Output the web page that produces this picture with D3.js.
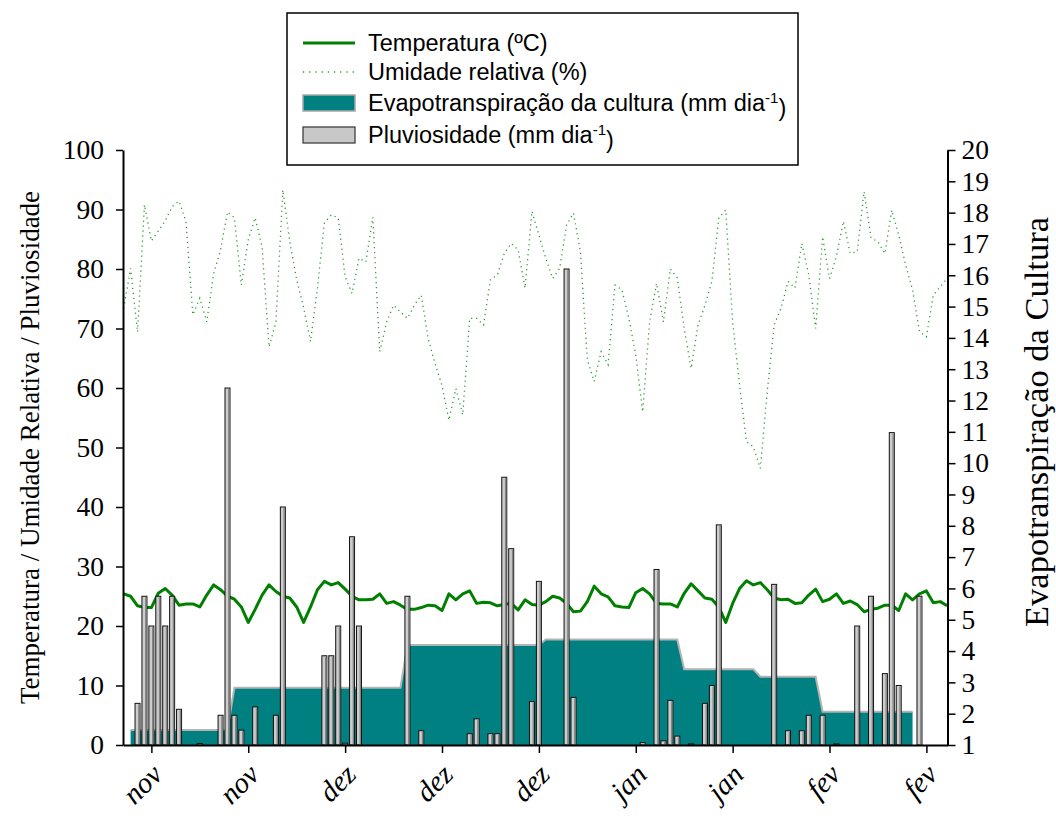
<!DOCTYPE html>
<html>
<head>
<meta charset="utf-8">
<script src="https://cdn.jsdelivr.net/npm/d3@7"></script>
<style>
  body { margin: 0; background: #fff; }
</style>
</head>
<body>
<div id="chart"></div>
<script>
// daily series; index = day counted from the left edge of the x axis
var temperatura = [
  25.4, 25.0, 23.4, 23.1, 23.1, 25.5, 26.3, 25.2, 23.5, 23.7, 23.7, 23.2, 25.2, 26.9, 26.1, 25.0, 24.5, 23.2, 20.6, 22.8,
  25.2, 26.9, 25.8, 25.0, 24.7, 23.2, 20.6, 23.2, 26.1, 27.5, 26.9, 27.3, 26.2, 25.0, 24.4, 24.4, 24.5, 25.4, 23.8, 24.1,
  23.5, 22.8, 22.8, 23.1, 23.5, 23.4, 22.6, 25.4, 24.4, 25.4, 25.9, 23.8, 24.0, 23.9, 23.4, 23.6, 23.8, 22.7, 24.4, 23.6,
  23.5, 24.1, 25.0, 24.7, 23.8, 22.4, 22.5, 24.1, 26.7, 25.4, 24.9, 23.4, 23.2, 23.1, 25.6, 26.3, 25.4, 23.8, 23.7, 23.7,
  23.2, 25.5, 27.1, 25.9, 24.7, 24.5, 23.2, 20.6, 23.8, 26.3, 27.6, 26.9, 27.3, 26.1, 24.7, 24.4, 24.5, 23.8, 23.9, 25.2,
  26.2, 24.1, 24.5, 25.4, 23.8, 24.2, 23.6, 22.4, 22.8, 23.0, 23.5, 23.5, 22.6, 25.4, 24.4, 25.4, 25.9, 23.9, 24.1, 23.4
];

var umidade = [
  73.4, 80.1, 69.4, 90.8, 84.7, 86.4, 88.1, 90.5, 91.4, 88.0, 72.3, 75.1, 71.1, 79.2, 83.2, 89.6, 88.6, 77.3, 84.9, 88.6,
  83.7, 66.9, 71.1, 93.3, 84.6, 78.2, 73.5, 67.8, 76.8, 87.7, 89.1, 88.6, 78.7, 75.9, 81.8, 81.2, 88.7, 66.1, 71.1, 73.9,
  72.8, 71.7, 73.9, 75.6, 68.3, 64.1, 60.4, 54.6, 59.9, 55.5, 71.7, 71.7, 70.6, 78.2, 79.0, 82.6, 84.3, 83.2, 76.8, 89.7,
  85.7, 81.8, 78.4, 80.1, 87.4, 89.4, 82.9, 64.7, 61.1, 66.1, 63.9, 77.3, 76.5, 71.7, 65.5, 56.0, 71.1, 77.6, 71.1, 80.0,
  78.5, 70.0, 63.3, 70.6, 73.9, 77.9, 88.6, 89.9, 71.1, 60.5, 51.0, 50.1, 46.5, 59.4, 70.6, 73.4, 77.9, 76.8, 84.3, 79.0,
  70.0, 85.4, 78.4, 82.1, 88.0, 82.6, 82.9, 93.0, 85.2, 84.6, 82.6, 89.9, 85.7, 80.7, 76.5, 69.5, 68.6, 75.6, 77.0, 78.4
];

// rainfall (mm dia-1): day index and value
var chuvaDias = [2, 3, 4, 5, 6, 7, 8, 11, 14, 15, 16, 17, 19, 22, 23, 29, 30, 31, 32, 33, 34,
  41, 43, 50, 51, 53, 54, 55, 56, 59, 60, 64, 65, 75, 77, 78, 79, 80, 82, 84, 85, 86,
  94, 96, 98, 99, 101, 103, 106, 108, 110, 111, 112, 115];
var chuvaValores = [7, 25, 20, 25, 20, 25, 6, 0.25, 5, 60, 5, 2.5, 6.4, 5, 40, 15, 15, 20, 0.3, 35, 20,
  25, 2.4, 1.9, 4.4, 1.9, 1.9, 45, 33, 7.3, 27.5, 80, 8, 0.4, 29.5, 0.7, 7.5, 1.5, 0.2, 7, 10, 37,
  27, 2.4, 2.4, 5, 5, 0.2, 20, 25, 12, 52.5, 10, 25];

// crop evapotranspiration (right axis), vertices of the stepped area
var etDias = [1, 15, 16, 40, 41, 60, 61, 80, 81, 91, 92, 100, 101, 114];
var etValores = [1.48, 1.48, 2.83, 2.83, 4.19, 4.19, 4.37, 4.37, 3.42, 3.42, 3.18, 3.18, 2.06, 2.06];

var mesTicks = [4, 18, 32, 46, 60, 74, 88, 102, 116];
var mesLabels = ["nov", "nov", "dez", "dez", "dez", "jan", "jan", "fev", "fev"];
var leftTicks = [0, 10, 20, 30, 40, 50, 60, 70, 80, 90, 100];
var rightTicks = [1, 2, 3, 4, 5, 6, 7, 8, 9, 10, 11, 12, 13, 14, 15, 16, 17, 18, 19, 20];

var legendLabels = ["Temperatura (ºC)", "Umidade relativa (%)", "Evapotranspiração da cultura (mm dia", "Pluviosidade (mm dia"];

// set the dimensions and margins of the graph
var margin = { top: 150, right: 108.5, bottom: 71, left: 123 },
  width = 1056 - margin.left - margin.right,
  height = 816 - margin.top - margin.bottom;

var svgRoot = d3.select("#chart").append("svg")
  .attr("width", 1056)
  .attr("height", 816);

var svg = svgRoot.append("g")
  .attr("transform", "translate(" + margin.left + "," + margin.top + ")");

var x = d3.scaleLinear().domain([-0.1, 119.05]).range([0, width]);
var yLeft = d3.scaleLinear().domain([0, 100]).range([height, 0]);
var yRight = d3.scaleLinear().domain([1, 20]).range([height, 0]);

var serif = "'Liberation Serif', 'Times New Roman', serif";
var sans = "'Liberation Sans', Arial, sans-serif";

// evapotranspiration area
var etData = etDias.map(function (d, i) { return [d, etValores[i]]; });
svg.append("path")
  .datum(etData)
  .attr("fill", "#008080")
  .attr("d", d3.area()
    .x(function (d) { return x(d[0]); })
    .y0(yRight(1))
    .y1(function (d) { return yRight(d[1]); }));
svg.append("path")
  .datum(etData)
  .attr("fill", "none")
  .attr("stroke", "#b4b4b4")
  .attr("stroke-width", 2)
  .attr("d", d3.line()
    .x(function (d) { return x(d[0]); })
    .y(function (d) { return yRight(d[1]); }));

// temperature line
svg.append("path")
  .datum(temperatura)
  .attr("fill", "none")
  .attr("stroke", "#008000")
  .attr("stroke-width", 3)
  .attr("stroke-linejoin", "round")
  .attr("d", d3.line()
    .x(function (d, i) { return x(i); })
    .y(function (d) { return yLeft(d); }));

// relative humidity, dotted
svg.append("path")
  .datum(umidade)
  .attr("fill", "none")
  .attr("stroke", "#2a9a2a")
  .attr("stroke-width", 1.3)
  .attr("stroke-dasharray", "1.2,3.8")
  .attr("d", d3.line()
    .x(function (d, i) { return x(i); })
    .y(function (d) { return yLeft(d); }));

// rainfall bars
var barW = 5;
var bars = svg.append("g").selectAll("g")
  .data(chuvaDias.map(function (d, i) { return { dia: d, v: chuvaValores[i] }; }))
  .enter().append("g");
bars.append("rect")
  .attr("x", function (d) { return x(d.dia) - barW / 2; })
  .attr("y", function (d) { return yLeft(d.v); })
  .attr("width", barW)
  .attr("height", function (d) { return yLeft(0) - yLeft(d.v); })
  .attr("fill", "#cdcdcd")
  .attr("stroke", "#111")
  .attr("stroke-width", 1);
bars.append("line")
  .attr("x1", function (d) { return x(d.dia) + barW / 2 - 1.2; })
  .attr("x2", function (d) { return x(d.dia) + barW / 2 - 1.2; })
  .attr("y1", function (d) { return yLeft(d.v) + 1; })
  .attr("y2", yLeft(0))
  .attr("stroke", "#858585")
  .attr("stroke-width", 1.4);

// axes
var axL = svg.append("g")
  .call(d3.axisLeft(yLeft).tickValues(leftTicks).tickSize(7).tickSizeOuter(0).tickPadding(12));
var axR = svg.append("g")
  .attr("transform", "translate(" + width + ",0)")
  .call(d3.axisRight(yRight).tickValues(rightTicks).tickSize(8).tickSizeOuter(0).tickPadding(6));
var axB = svg.append("g")
  .attr("transform", "translate(0," + height + ")")
  .call(d3.axisBottom(x).tickValues(mesTicks).tickSize(8).tickSizeOuter(0)
    .tickFormat(function (d, i) { return mesLabels[i]; }));

[axL, axR, axB].forEach(function (ax) {
  ax.select(".domain").attr("stroke", "#000").attr("stroke-width", 2);
  ax.selectAll(".tick line").attr("stroke", "#000").attr("stroke-width", 1.5);
  ax.selectAll("text").attr("font-family", serif).attr("font-size", 27.5).attr("fill", "#000");
});

axB.selectAll(".tick text")
  .attr("text-anchor", "end")
  .attr("font-style", "italic")
  .attr("font-size", 29)
  .attr("x", 0)
  .attr("y", 0)
  .attr("dy", "0.35em")
  .attr("transform", "translate(5,24) rotate(-45)");

// axis titles
svgRoot.append("text")
  .attr("transform", "translate(" + 39 + "," + (margin.top + height / 2) + ") rotate(-90)")
  .attr("text-anchor", "middle")
  .attr("font-family", serif)
  .attr("font-size", 27)
  .text("Temperatura / Umidade Relativa / Pluviosidade");

svgRoot.append("text")
  .attr("transform", "translate(" + 1036 + "," + 422 + ") rotate(-90)")
  .attr("text-anchor", "middle")
  .attr("dy", "0.35em")
  .attr("font-family", serif)
  .attr("font-size", 34.5)
  .text("Evapotranspiração da Cultura");

// legend
var lg = svgRoot.append("g").attr("transform", "translate(287,13)");
lg.append("rect")
  .attr("width", 511).attr("height", 152)
  .attr("fill", "#fff").attr("stroke", "#000").attr("stroke-width", 1.5);

var rowY = [30, 59, 90, 122];
lg.append("line").attr("x1", 16).attr("x2", 68).attr("y1", rowY[0]).attr("y2", rowY[0])
  .attr("stroke", "#008000").attr("stroke-width", 3);
lg.append("line").attr("x1", 16).attr("x2", 68).attr("y1", rowY[1]).attr("y2", rowY[1])
  .attr("stroke", "#2a9a2a").attr("stroke-width", 1.3).attr("stroke-dasharray", "1.2,5");
lg.append("rect").attr("x", 16).attr("y", rowY[2] - 8).attr("width", 52).attr("height", 16)
  .attr("fill", "#008080").attr("stroke", "#a8a8a8").attr("stroke-width", 1.5);
lg.append("rect").attr("x", 16).attr("y", rowY[3] - 8).attr("width", 52).attr("height", 16)
  .attr("fill", "#c8c8c8").attr("stroke", "#333").attr("stroke-width", 1.2);

legendLabels.forEach(function (lab, i) {
  var t = lg.append("text")
    .attr("x", 81)
    .attr("y", rowY[i])
    .attr("dy", "0.35em")
    .attr("font-family", sans)
    .attr("font-size", 23.5)
    .text(lab);
  if (i >= 2) {
    t.append("tspan").attr("dy", "-0.55em").attr("font-size", 15).text("-1");
    t.append("tspan").attr("dy", "0.55em").text(")");
  }
});
</script>
</body>
</html>
